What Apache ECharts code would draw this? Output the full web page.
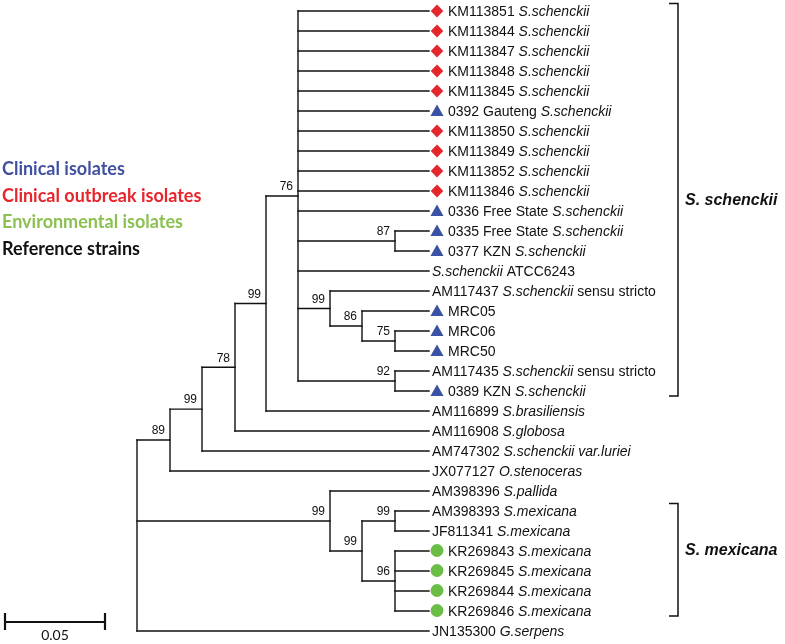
<!DOCTYPE html>
<html><head><meta charset="utf-8">
<script src="https://cdn.jsdelivr.net/npm/echarts@6/dist/echarts.min.js"></script>
<style>html,body{margin:0;padding:0;background:#fff}#c{width:785px;height:644px}</style>
</head><body><div id="c"></div>
<script>
// ---- Leaves (top to bottom) ----
const leafIds = ['KM113851','KM113844','KM113847','KM113848','KM113845','0392 Gauteng','KM113850','KM113849','KM113852','KM113846','0336 Free State','0335 Free State','0377 KZN','','AM117437','MRC05','MRC06','MRC50','AM117435','0389 KZN','AM116899','AM116908','AM747302','JX077127','AM398396','AM398393','JF811341','KR269843','KR269845','KR269844','KR269846','JN135300'];
const leafTaxa = ['S.schenckii','S.schenckii','S.schenckii','S.schenckii','S.schenckii','S.schenckii','S.schenckii','S.schenckii','S.schenckii','S.schenckii','S.schenckii','S.schenckii','S.schenckii','S.schenckii','S.schenckii','','','','S.schenckii','S.schenckii','S.brasiliensis','S.globosa','S.schenckii var.luriei','O.stenoceras','S.pallida','S.mexicana','S.mexicana','S.mexicana','S.mexicana','S.mexicana','S.mexicana','G.serpens'];
const leafSuffix = ['','','','','','','','','','','','','','ATCC6243','sensu stricto','','','','sensu stricto','','','','','','','','','','','','',''];
// group: o = clinical outbreak, c = clinical, e = environmental, r = reference
const leafGroup = ['o','o','o','o','o','c','o','o','o','o','c','c','c','r','r','c','c','c','r','c','r','r','r','r','r','r','r','e','e','e','e','r'];
const tipDepth = 0.146;

// ---- Internal nodes ----
const nodeNames = ['root','n89','n99a','n78','n99b','n76','n87','n99c','n86','n75','n92','nMex','nMex2','nMex3','n96'];
const nodeDepth = [0,0.0165,0.0325,0.049,0.0645,0.0805,0.129,0.0965,0.1125,0.129,0.129,0.0965,0.1125,0.129,0.129];
const nodeSupport = ['','89','99','78','99','76','87','99','86','75','92','99','99','99','96'];
const nodeChildren = [
  ['n89','nMex',31],
  ['n99a',23],
  ['n78',22],
  ['n99b',21],
  ['n76',20],
  [0,1,2,3,4,5,6,7,8,9,10,'n87',13,'n99c','n92'],
  [11,12],
  [14,'n86'],
  [15,'n75'],
  [16,17],
  [18,19],
  [24,'nMex2'],
  ['nMex3','n96'],
  [25,26],
  [27,28,29,30]
];

// ---- Clade brackets ----
const cladeNames = ['S. schenckii','S. mexicana'];
const cladeFirst = [0,25];
const cladeLast = [19,30];
const cladeLabelRow = [9.5,27.0];
const bracketDepth = 0.2705;

// ---- Scale bar ----
const scaleBarStart = -0.066;
const scaleBarLength = 0.05;
const scaleBarLabel = '0.05';
const scaleBarRow = 30.55;

// ---- Legend ----
const legendNames = ['Clinical isolates','Clinical outbreak isolates','Environmental isolates','Reference strains'];
const legendColors = ['#4150a0','#e8252b','#8cc152','#111111'];

const groupColor = {o:'#e3262b', c:'#3a52a3', e:'#6abd45'};

// ---- Build tree geometry (data units) ----
const nodeIndex = {};
nodeNames.forEach((n,i)=>nodeIndex[n]=i);
const nodeY = new Array(nodeNames.length);
function yOf(c){ return typeof c === 'number' ? c : computeY(nodeIndex[c]); }
function xOf(c){ return typeof c === 'number' ? tipDepth : nodeDepth[nodeIndex[c]]; }
function computeY(i){
  if (nodeY[i] !== undefined) return nodeY[i];
  const ys = nodeChildren[i].map(yOf);
  nodeY[i] = (ys[0] + ys[ys.length-1]) / 2;
  return nodeY[i];
}
nodeNames.forEach((n,i)=>computeY(i));

const segments = [];
nodeChildren.forEach((ch,i)=>{
  const ys = ch.map(yOf);
  segments.push([nodeDepth[i], Math.min(...ys), nodeDepth[i], Math.max(...ys)]);
  ch.forEach(c=>{ segments.push([nodeDepth[i], yOf(c), xOf(c), yOf(c)]); });
});

const leafData = leafIds.map((id,i)=>[tipDepth, i]);
const supportData = nodeNames.map((n,i)=>[nodeDepth[i], nodeY[i]]).filter((d,i)=>nodeSupport[i]!=='');
const supportText = nodeSupport.filter(s=>s!=='');
const cladeData = cladeNames.map((n,i)=>[bracketDepth, cladeFirst[i], cladeLast[i], cladeLabelRow[i]]);

function leafRich(i){
  const parts = [];
  if (leafIds[i]) parts.push('{n|'+leafIds[i]+'}');
  if (leafTaxa[i]) parts.push('{i|'+leafTaxa[i]+'}');
  if (leafSuffix[i]) parts.push('{n|'+leafSuffix[i]+'}');
  return parts.join('{n| }');
}

const FONT = '"Liberation Sans", Arial, sans-serif';

const chart = echarts.init(document.getElementById('c'), null, {renderer:'canvas'});
chart.setOption({
  backgroundColor:'#ffffff',
  animation:false,
  grid:{left:5, top:0, width:780, height:643, containLabel:false},
  xAxis:{type:'value', min:-0.066, max:0.324, show:false},
  yAxis:{type:'value', min:-0.55, max:31.6, inverse:true, show:false},
  graphic: legendNames.map((t,i)=>({
    type:'text', left:2, top:160 + i*26.8,
    style:{text:t, fill:legendColors[i], font:'bold 18px Lato, "Open Sans", sans-serif'}
  })),
  series:[
    {
      type:'custom', name:'branches', coordinateSystem:'cartesian2d',
      data: segments, encode:{x:[0,2], y:[1,3]},
      renderItem:function(params, api){
        const p1 = api.coord([api.value(0), api.value(1)]);
        const p2 = api.coord([api.value(2), api.value(3)]);
        return {type:'line', shape:{x1:p1[0],y1:p1[1],x2:p2[0],y2:p2[1]},
          style:{stroke:'#111', lineWidth:1.4, lineCap:'square'}};
      }
    },
    {
      type:'custom', name:'leaves', coordinateSystem:'cartesian2d',
      data: leafData, encode:{x:0, y:1},
      renderItem:function(params, api){
        const i = params.dataIndex;
        const p = api.coord([api.value(0), api.value(1)]);
        const g = leafGroup[i];
        const children = [];
        let tx = p[0] + 3;
        const cx = p[0] + 8, cy = p[1];
        if (g === 'o') {
          children.push({type:'polygon', shape:{points:[[cx,cy-6.5],[cx+6.3,cy],[cx,cy+6.5],[cx-6.3,cy]]}, style:{fill:groupColor.o}});
        } else if (g === 'c') {
          children.push({type:'polygon', shape:{points:[[cx,cy-6.5],[cx+6.5,cy+5],[cx-6.5,cy+5]]}, style:{fill:groupColor.c}});
        } else if (g === 'e') {
          children.push({type:'circle', shape:{cx:cx, cy:cy-0.5, r:6.4}, style:{fill:groupColor.e}});
        }
        if (g !== 'r') tx = p[0] + 19;
        children.push({type:'text', x:tx, y:p[1]+1,
          style:{text:leafRich(i), fill:'#111', align:'left', verticalAlign:'middle',
            rich:{
              n:{fontFamily:FONT, fontSize:14, fill:'#111', fontStyle:'normal'},
              i:{fontFamily:FONT, fontSize:14, fill:'#111', fontStyle:'italic'}
            }}});
        return {type:'group', children:children};
      }
    },
    {
      type:'custom', name:'support', coordinateSystem:'cartesian2d',
      data: supportData, encode:{x:0, y:1},
      renderItem:function(params, api){
        const p = api.coord([api.value(0), api.value(1)]);
        return {type:'text', x:p[0]-5, y:p[1]-3,
          style:{text:supportText[params.dataIndex], fill:'#111', align:'right', verticalAlign:'bottom',
            font:'12px '+FONT}};
      }
    },
    {
      type:'custom', name:'clades', coordinateSystem:'cartesian2d',
      data: cladeData, encode:{x:0, y:[1,2]},
      renderItem:function(params, api){
        const top = api.coord([api.value(0), api.value(1)-0.37]);
        const bot = api.coord([api.value(0), api.value(2)+0.25]);
        const lab = api.coord([api.value(0), api.value(3)]);
        const st = {stroke:'#111', lineWidth:1.5, fill:null};
        return {type:'group', children:[
          {type:'polyline', shape:{points:[[top[0]-9,top[1]],[top[0],top[1]],[bot[0],bot[1]],[bot[0]-9,bot[1]]]}, style:st},
          {type:'text', x:lab[0]+7, y:lab[1],
            style:{text:cladeNames[params.dataIndex], fill:'#111', align:'left', verticalAlign:'middle',
              font:'italic bold 16px '+FONT}}
        ]};
      }
    },
    {
      type:'custom', name:'scalebar', coordinateSystem:'cartesian2d',
      data: [[scaleBarStart, scaleBarRow, scaleBarStart+scaleBarLength]], encode:{x:[0,2], y:1},
      renderItem:function(params, api){
        const a = api.coord([api.value(0), api.value(1)]);
        const b = api.coord([api.value(2), api.value(1)]);
        const st = {stroke:'#111', lineWidth:2.2};
        return {type:'group', children:[
          {type:'line', shape:{x1:a[0],y1:a[1],x2:b[0],y2:b[1]}, style:st},
          {type:'line', shape:{x1:a[0],y1:a[1]-9,x2:a[0],y2:a[1]+8}, style:st},
          {type:'line', shape:{x1:b[0],y1:b[1]-9,x2:b[0],y2:b[1]+8}, style:st},
          {type:'text', x:(a[0]+b[0])/2, y:a[1]+13,
            style:{text:scaleBarLabel, fill:'#111', align:'center', verticalAlign:'middle', font:'14px Lato, "Open Sans", sans-serif'}}
        ]};
      }
    }
  ]
});
</script></body></html>
